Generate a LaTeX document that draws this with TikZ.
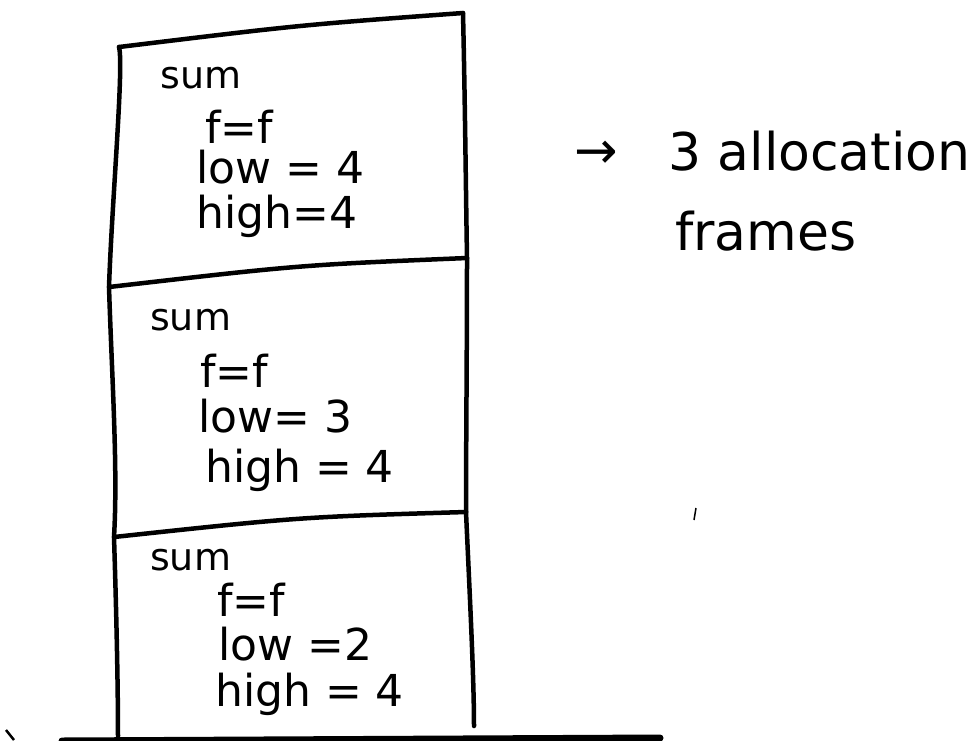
\documentclass[tikz,border=0pt]{standalone}
\usepackage{fontspec}
\setmainfont{DejaVu Sans}
\begin{document}
\begin{tikzpicture}[x=1pt,y=-1pt,
  pen/.style={line width=4.5pt,line cap=round,line join=round},
  heavy/.style={line width=7pt,line cap=round},
  vartext/.style={anchor=base west,inner sep=0pt,font=\fontsize{44}{44}\selectfont},
  fntext/.style={anchor=base west,inner sep=0pt,font=\fontsize{38}{38}\selectfont},
  notetext/.style={anchor=base west,inner sep=0pt,font=\fontsize{52}{52}\selectfont}]
\useasboundingbox (0,0) rectangle (975,740);
\fill[white] (0,0) rectangle (975,740);

% frame corners
\coordinate (a1) at (119,47);  \coordinate (b1) at (463,13);
\coordinate (a2) at (109,287); \coordinate (b2) at (467,258);
\coordinate (a3) at (114,537); \coordinate (b3) at (466,512);
\coordinate (a4) at (118,736); \coordinate (b4) at (474,726);

% stacked frames
\draw[pen] (a1) .. controls (300,25) .. (b1);
\draw[pen] (a2) .. controls (300,265) .. (b2);
\draw[pen] (a3) .. controls (300,517) .. (b3);
\draw[pen] (a1) .. controls (124,65) and (112,200) .. (a2);
\draw[pen] (a2) .. controls (112,380) and (118,470) .. (a3);
\draw[pen] (a3) .. controls (116,600) and (118,680) .. (a4);
\draw[pen] (b1) .. controls (465,100) and (466,200) .. (b2);
\draw[pen] (b2) .. controls (467,350) and (466,450) .. (b3);
\draw[pen] (b3) .. controls (470,600) and (474,680) .. (b4);

% floor
\coordinate (g1) at (62,741); \coordinate (g2) at (660,738);
\draw[heavy] (g1) -- (g2);
\coordinate (m1) at (6,730); \coordinate (m2) at (14,740);
\draw[line width=2.5pt] (m1) -- (m2);

% frame 1
\node[fntext]  (s1) at (160,88)  {sum};
\node[vartext] (f1t) at (205,143) {f=f};
\node[vartext] (l1) at (196,183) {low = 4};
\node[vartext] (h1) at (196,228) {high=4};

% frame 2
\node[fntext]  (s2) at (150,330) {sum};
\node[vartext] (f2t) at (200,387) {f=f};
\node[vartext] (l2) at (198,432) {low= 3};
\node[vartext] (h2) at (205,482) {high = 4};

% frame 3
\node[fntext]  (s3) at (150,570) {sum};
\node[vartext] (f3t) at (217,616) {f=f};
\node[vartext] (l3) at (218,660) {low =2};
\node[vartext] (h3) at (215,706) {high = 4};

% annotation
\node[notetext] (arr) at (574,168) {→};
\node[notetext] (n1) at (668,170) {3 allocation};
\node[notetext] (n2) at (675,250) {frames};

% stray pen mark
\coordinate (p1) at (696,508); \coordinate (p2) at (694,520);
\draw[line width=1.5pt] (p1) -- (p2);
\end{tikzpicture}
\end{document}
